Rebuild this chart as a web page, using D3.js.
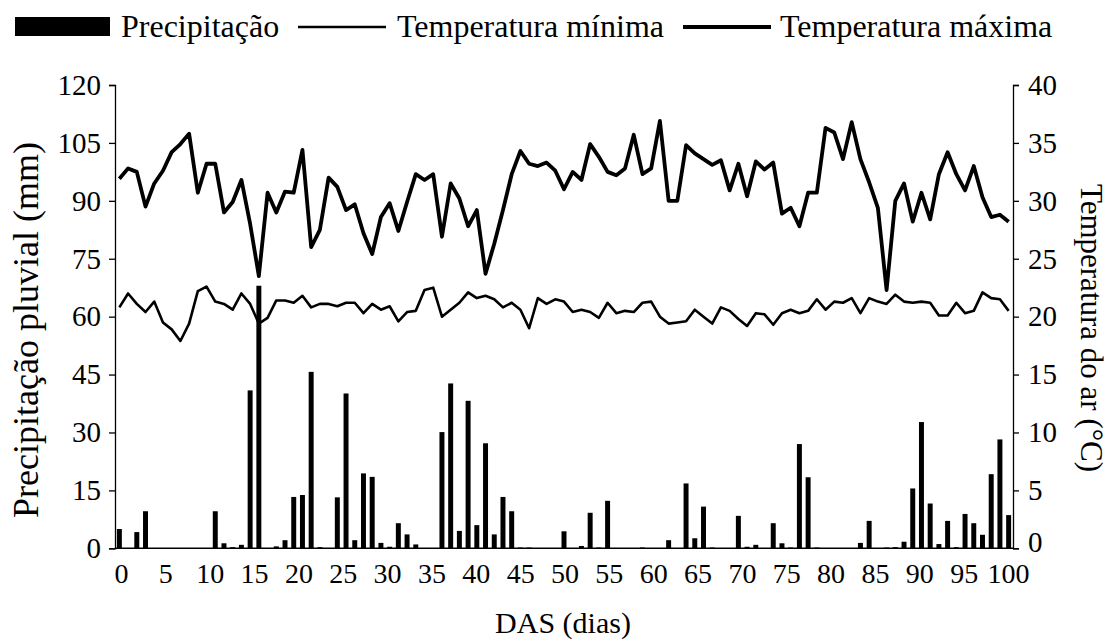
<!DOCTYPE html>
<html><head><meta charset="utf-8">
<script src="https://cdn.jsdelivr.net/npm/d3@7"></script>
<style>body{margin:0;background:#fff} svg text{font-family:"Liberation Serif","DejaVu Serif",serif;fill:#000}</style>
</head><body><svg id="c" width="1112" height="642"></svg>
<script>
const days = [0,1,2,3,4,5,6,7,8,9,10,11,12,13,14,15,16,17,18,19,20,21,22,23,24,25,26,27,28,29,30,31,32,33,34,35,36,37,38,39,40,41,42,43,44,45,46,47,48,49,50,51,52,53,54,55,56,57,58,59,60,61,62,63,64,65,66,67,68,69,70,71,72,73,74,75,76,77,78,79,80,81,82,83,84,85,86,87,88,89,90,91,92,93,94,95,96,97,98,99,100,101,102];
const precip = [5.0,0,4.2,9.6,0,0,0,0,0,0,0,9.6,1.3,0.3,0.9,40.9,68.0,0,0.5,2.1,13.3,13.8,45.7,0.3,0,13.2,40.1,2.1,19.4,18.5,1.4,0.4,6.5,3.6,1.0,0,0,30.1,42.7,4.5,38.2,6.0,27.2,3.6,13.3,9.6,0.2,0.2,0,0,0,4.4,0,0.6,9.2,0.2,12.3,0,0,0,0.2,0,0,2.1,0,16.8,2.6,10.8,0.2,0,0,8.4,0.4,0.9,0,6.5,1.3,0.2,27.0,18.4,0.2,0,0,0,0,1.4,7.1,0,0.2,0.3,1.7,15.5,32.7,11.6,1.1,7.1,0.3,8.9,6.5,3.5,19.2,28.2,8.6];
const tMin = [20.8,22.0,21.1,20.4,21.3,19.5,18.9,17.9,19.4,22.2,22.6,21.3,21.1,20.6,22.0,21.1,19.4,19.9,21.4,21.4,21.2,21.8,20.8,21.1,21.1,20.9,21.2,21.2,20.3,21.1,20.6,20.9,19.6,20.4,20.5,22.3,22.5,20.0,20.6,21.2,22.1,21.6,21.8,21.5,20.8,21.2,20.6,19.0,21.6,21.1,21.5,21.3,20.4,20.6,20.4,19.9,21.2,20.3,20.5,20.4,21.2,21.3,20.0,19.4,19.5,19.6,20.6,20.0,19.4,20.8,20.5,19.8,19.2,20.3,20.2,19.3,20.3,20.6,20.3,20.5,21.5,20.6,21.3,21.2,21.6,20.3,21.6,21.3,21.1,21.9,21.3,21.2,21.3,21.2,20.1,20.1,21.2,20.3,20.5,22.1,21.6,21.5,20.5];
const tMax = [31.9,32.8,32.5,29.5,31.5,32.6,34.2,34.9,35.8,30.7,33.2,33.2,29.0,29.9,31.8,28.0,23.5,30.7,29.0,30.8,30.7,34.4,26.0,27.5,32.0,31.2,29.2,29.7,27.2,25.4,28.6,29.8,27.4,29.9,32.3,31.8,32.3,26.9,31.5,30.2,27.8,29.2,23.7,26.3,29.2,32.3,34.3,33.2,33.0,33.3,32.6,31.0,32.5,31.8,34.9,33.8,32.5,32.2,32.8,35.7,32.3,32.8,36.9,30.0,30.0,34.8,34.1,33.6,33.1,33.5,30.9,33.2,30.4,33.4,32.7,33.3,28.9,29.4,27.8,30.7,30.7,36.3,35.9,33.6,36.8,33.6,31.6,29.4,22.3,30.0,31.5,28.2,30.7,28.4,32.3,34.2,32.3,30.9,33.0,30.3,28.6,28.8,28.2];
const leftTicks = [0,15,30,45,60,75,90,105,120];
const rightTicks = [0,5,10,15,20,25,30,35,40];
const xTickLabels = [0,5,10,15,20,25,30,35,40,45,50,55,60,65,70,75,80,85,90,95,100];
const legendLabels = ["Precipitação","Temperatura mínima","Temperatura máxima"];

const svg = d3.select("#c");
const L = 115, R = 1013, T = 85, B = 548.3;
const FS = 29;
const FF = '"Liberation Serif","DejaVu Serif",serif';

const x = d3.scaleBand().domain(days).range([L, R]).paddingInner(0.43).paddingOuter(0.215);
const xc = d => x(d) + x.bandwidth()/2;
const xLab = d3.scaleLinear().domain([0,100]).range([121, 1008]);
const yL = d3.scaleLinear().domain([0,120]).range([B, T]);
const yR = d3.scaleLinear().domain([0,40]).range([B, T]);

svg.append("g").selectAll("rect").data(days).join("rect")
  .attr("x", d => x(d)).attr("width", x.bandwidth())
  .attr("y", d => yL(precip[d])).attr("height", d => B - yL(precip[d]))
  .attr("fill", "#000");

const lineMin = d3.line().x(d => xc(d)).y(d => yR(tMin[d]));
const lineMax = d3.line().x(d => xc(d)).y(d => yR(tMax[d]));
svg.append("path").attr("d", lineMin(days)).attr("fill","none").attr("stroke","#000").attr("stroke-width",2.6).attr("stroke-linejoin","round");
svg.append("path").attr("d", lineMax(days)).attr("fill","none").attr("stroke","#000").attr("stroke-width",3.8).attr("stroke-linejoin","round");

const axL = svg.append("g").attr("transform",`translate(${L},0)`)
  .call(d3.axisLeft(yL).tickValues(leftTicks).tickSize(6).tickPadding(8));
const axR = svg.append("g").attr("transform",`translate(${R},0)`)
  .call(d3.axisRight(yR).tickValues(rightTicks).tickSize(6).tickPadding(9));
[axL, axR].forEach(a => {
  a.attr("font-family", FF);
  a.select(".domain").attr("stroke","#000").attr("stroke-width",1.3);
  a.selectAll(".tick line").attr("stroke","#000").attr("stroke-width",1.3);
  a.selectAll("text").attr("font-size",FS);
});
// lift the right-axis "0" label slightly so it clears the "100" label below it
axR.selectAll(".tick").filter(d => d === 0).select("text").attr("dy","0.1em");
const axB = svg.append("g").attr("transform",`translate(0,${B})`)
  .call(d3.axisBottom(xLab).tickValues(xTickLabels).tickSize(0).tickPadding(15));
axB.attr("font-family", FF);
axB.select(".domain").attr("d",`M${L},0H${R}`).attr("stroke","#000").attr("stroke-width",1.5);
axB.selectAll("text").attr("font-size",28);

svg.append("text").attr("x",563).attr("y",633).attr("text-anchor","middle").attr("font-size",30).text("DAS (dias)");
svg.append("text").attr("transform","translate(38,330) rotate(-90)").attr("text-anchor","middle").attr("font-size",36).text("Precipitação pluvial (mm)");
svg.append("text").attr("transform","translate(1081,328) rotate(90)").attr("text-anchor","middle").attr("font-size",31).text("Temperatura do ar (°C)");

const lg = svg.append("g");
lg.append("rect").attr("x",15).attr("y",17).attr("width",95).attr("height",19).attr("fill","#000");
lg.append("text").attr("x",121).attr("y",37).attr("font-size",32).text(legendLabels[0]);
lg.append("line").attr("x1",298).attr("x2",386).attr("y1",27).attr("y2",27).attr("stroke","#000").attr("stroke-width",2.6);
lg.append("text").attr("x",397).attr("y",37).attr("font-size",32).text(legendLabels[1]);
lg.append("line").attr("x1",683).attr("x2",771).attr("y1",27).attr("y2",27).attr("stroke","#000").attr("stroke-width",3.8);
lg.append("text").attr("x",780).attr("y",37).attr("font-size",32).text(legendLabels[2]);
</script></body></html>
